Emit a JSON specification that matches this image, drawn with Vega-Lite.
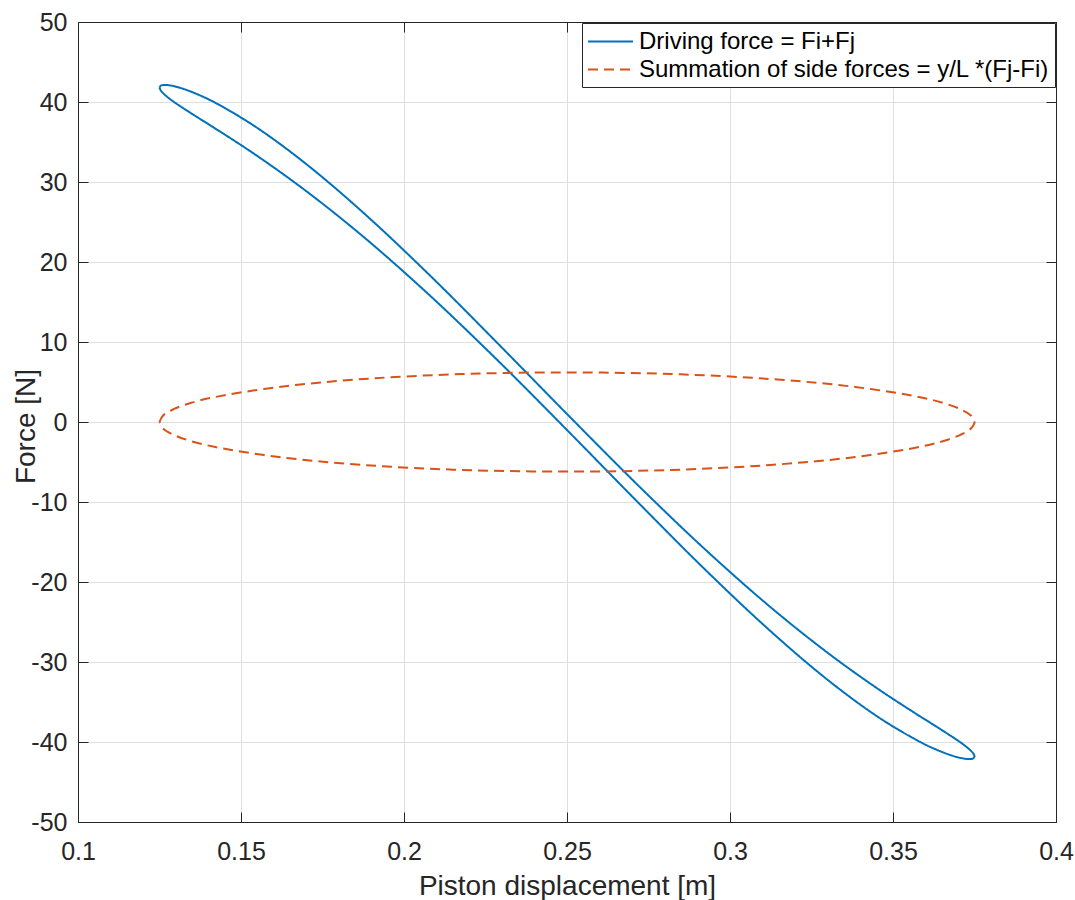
{
  "$schema": "https://vega.github.io/schema/vega-lite/v6.json",
  "width": 978,
  "height": 800,
  "autosize": "none",
  "padding": {"left": 78, "top": 22, "right": 19, "bottom": 78},
  "background": "white",
  "config": {
    "font": "Liberation Sans",
    "view": {"stroke": "#262626", "strokeWidth": 1},
    "axis": {
      "labelFontSize": 25,
      "labelColor": "#262626",
      "labelFont": "Liberation Sans",
      "titleFont": "Liberation Sans",
      "titleFontSize": 28,
      "titleColor": "#262626",
      "titleFontWeight": "normal",
      "domainColor": "#262626",
      "tickColor": "#262626",
      "gridColor": "#dfdfdf",
      "gridWidth": 1,
      "tickSize": -10,
      "tickWidth": 1,
      "domainWidth": 1,
      "labelFlush": false,
      "labelOverlap": false
    },
    "legend": {
      "labelFont": "Liberation Sans",
      "labelFontSize": 24,
      "labelColor": "#000000"
    }
  },
  "data": {
    "values": [
      {"s": "Driving force = Fi+Fj", "i": 1, "x": 0.12500, "y": 41.80},
      {"s": "Driving force = Fi+Fj", "i": 2, "x": 0.12548, "y": 42.06},
      {"s": "Driving force = Fi+Fj", "i": 3, "x": 0.12690, "y": 42.13},
      {"s": "Driving force = Fi+Fj", "i": 4, "x": 0.12926, "y": 41.99},
      {"s": "Driving force = Fi+Fj", "i": 5, "x": 0.13254, "y": 41.61},
      {"s": "Driving force = Fi+Fj", "i": 6, "x": 0.13671, "y": 40.95},
      {"s": "Driving force = Fi+Fj", "i": 7, "x": 0.14175, "y": 39.98},
      {"s": "Driving force = Fi+Fj", "i": 8, "x": 0.15425, "y": 36.96},
      {"s": "Driving force = Fi+Fj", "i": 9, "x": 0.16965, "y": 32.36},
      {"s": "Driving force = Fi+Fj", "i": 10, "x": 0.18750, "y": 26.17},
      {"s": "Driving force = Fi+Fj", "i": 11, "x": 0.20725, "y": 18.60},
      {"s": "Driving force = Fi+Fj", "i": 12, "x": 0.22829, "y": 10.02},
      {"s": "Driving force = Fi+Fj", "i": 13, "x": 0.25000, "y": 1.00},
      {"s": "Driving force = Fi+Fj", "i": 14, "x": 0.27171, "y": -7.88},
      {"s": "Driving force = Fi+Fj", "i": 15, "x": 0.29275, "y": -16.07},
      {"s": "Driving force = Fi+Fj", "i": 16, "x": 0.31250, "y": -23.17},
      {"s": "Driving force = Fi+Fj", "i": 17, "x": 0.33035, "y": -28.97},
      {"s": "Driving force = Fi+Fj", "i": 18, "x": 0.34575, "y": -33.46},
      {"s": "Driving force = Fi+Fj", "i": 19, "x": 0.35825, "y": -36.78},
      {"s": "Driving force = Fi+Fj", "i": 20, "x": 0.36329, "y": -38.07},
      {"s": "Driving force = Fi+Fj", "i": 21, "x": 0.36746, "y": -39.16},
      {"s": "Driving force = Fi+Fj", "i": 22, "x": 0.37074, "y": -40.06},
      {"s": "Driving force = Fi+Fj", "i": 23, "x": 0.37310, "y": -40.80},
      {"s": "Driving force = Fi+Fj", "i": 24, "x": 0.37452, "y": -41.38},
      {"s": "Driving force = Fi+Fj", "i": 25, "x": 0.37500, "y": -41.80},
      {"s": "Driving force = Fi+Fj", "i": 26, "x": 0.37452, "y": -42.06},
      {"s": "Driving force = Fi+Fj", "i": 27, "x": 0.37310, "y": -42.13},
      {"s": "Driving force = Fi+Fj", "i": 28, "x": 0.37074, "y": -41.99},
      {"s": "Driving force = Fi+Fj", "i": 29, "x": 0.36746, "y": -41.61},
      {"s": "Driving force = Fi+Fj", "i": 30, "x": 0.36329, "y": -40.95},
      {"s": "Driving force = Fi+Fj", "i": 31, "x": 0.35825, "y": -39.98},
      {"s": "Driving force = Fi+Fj", "i": 32, "x": 0.34575, "y": -36.96},
      {"s": "Driving force = Fi+Fj", "i": 33, "x": 0.33035, "y": -32.36},
      {"s": "Driving force = Fi+Fj", "i": 34, "x": 0.31250, "y": -26.17},
      {"s": "Driving force = Fi+Fj", "i": 35, "x": 0.29275, "y": -18.60},
      {"s": "Driving force = Fi+Fj", "i": 36, "x": 0.27171, "y": -10.02},
      {"s": "Driving force = Fi+Fj", "i": 37, "x": 0.25000, "y": -1.00},
      {"s": "Driving force = Fi+Fj", "i": 38, "x": 0.22829, "y": 7.88},
      {"s": "Driving force = Fi+Fj", "i": 39, "x": 0.20725, "y": 16.07},
      {"s": "Driving force = Fi+Fj", "i": 40, "x": 0.18750, "y": 23.17},
      {"s": "Driving force = Fi+Fj", "i": 41, "x": 0.16965, "y": 28.97},
      {"s": "Driving force = Fi+Fj", "i": 42, "x": 0.15425, "y": 33.46},
      {"s": "Driving force = Fi+Fj", "i": 43, "x": 0.14175, "y": 36.78},
      {"s": "Driving force = Fi+Fj", "i": 44, "x": 0.13671, "y": 38.07},
      {"s": "Driving force = Fi+Fj", "i": 45, "x": 0.13254, "y": 39.16},
      {"s": "Driving force = Fi+Fj", "i": 46, "x": 0.12926, "y": 40.06},
      {"s": "Driving force = Fi+Fj", "i": 47, "x": 0.12690, "y": 40.80},
      {"s": "Driving force = Fi+Fj", "i": 48, "x": 0.12548, "y": 41.38},
      {"s": "Driving force = Fi+Fj", "i": 49, "x": 0.12500, "y": 41.80},
      {"s": "Summation of side forces = y/L *(Fj-Fi)", "i": 1, "x": 0.1250, "y": 0},
      {"s": "Summation of side forces = y/L *(Fj-Fi)", "i": 2, "x": 0.1261, "y": 0.81},
      {"s": "Summation of side forces = y/L *(Fj-Fi)", "i": 3, "x": 0.1293, "y": 1.60},
      {"s": "Summation of side forces = y/L *(Fj-Fi)", "i": 4, "x": 0.1345, "y": 2.37},
      {"s": "Summation of side forces = y/L *(Fj-Fi)", "i": 5, "x": 0.1418, "y": 3.10},
      {"s": "Summation of side forces = y/L *(Fj-Fi)", "i": 6, "x": 0.1616, "y": 4.38},
      {"s": "Summation of side forces = y/L *(Fj-Fi)", "i": 7, "x": 0.1875, "y": 5.37},
      {"s": "Summation of side forces = y/L *(Fj-Fi)", "i": 8, "x": 0.2177, "y": 5.99},
      {"s": "Summation of side forces = y/L *(Fj-Fi)", "i": 9, "x": 0.2500, "y": 6.20},
      {"s": "Summation of side forces = y/L *(Fj-Fi)", "i": 10, "x": 0.2823, "y": 5.99},
      {"s": "Summation of side forces = y/L *(Fj-Fi)", "i": 11, "x": 0.3125, "y": 5.37},
      {"s": "Summation of side forces = y/L *(Fj-Fi)", "i": 12, "x": 0.3384, "y": 4.38},
      {"s": "Summation of side forces = y/L *(Fj-Fi)", "i": 13, "x": 0.3583, "y": 3.10},
      {"s": "Summation of side forces = y/L *(Fj-Fi)", "i": 14, "x": 0.3655, "y": 2.37},
      {"s": "Summation of side forces = y/L *(Fj-Fi)", "i": 15, "x": 0.3707, "y": 1.60},
      {"s": "Summation of side forces = y/L *(Fj-Fi)", "i": 16, "x": 0.3739, "y": 0.81},
      {"s": "Summation of side forces = y/L *(Fj-Fi)", "i": 17, "x": 0.3750, "y": 0},
      {"s": "Summation of side forces = y/L *(Fj-Fi)", "i": 18, "x": 0.3739, "y": -0.81},
      {"s": "Summation of side forces = y/L *(Fj-Fi)", "i": 19, "x": 0.3707, "y": -1.60},
      {"s": "Summation of side forces = y/L *(Fj-Fi)", "i": 20, "x": 0.3655, "y": -2.37},
      {"s": "Summation of side forces = y/L *(Fj-Fi)", "i": 21, "x": 0.3583, "y": -3.10},
      {"s": "Summation of side forces = y/L *(Fj-Fi)", "i": 22, "x": 0.3384, "y": -4.38},
      {"s": "Summation of side forces = y/L *(Fj-Fi)", "i": 23, "x": 0.3125, "y": -5.37},
      {"s": "Summation of side forces = y/L *(Fj-Fi)", "i": 24, "x": 0.2823, "y": -5.99},
      {"s": "Summation of side forces = y/L *(Fj-Fi)", "i": 25, "x": 0.2500, "y": -6.20},
      {"s": "Summation of side forces = y/L *(Fj-Fi)", "i": 26, "x": 0.2177, "y": -5.99},
      {"s": "Summation of side forces = y/L *(Fj-Fi)", "i": 27, "x": 0.1875, "y": -5.37},
      {"s": "Summation of side forces = y/L *(Fj-Fi)", "i": 28, "x": 0.1616, "y": -4.38},
      {"s": "Summation of side forces = y/L *(Fj-Fi)", "i": 29, "x": 0.1418, "y": -3.10},
      {"s": "Summation of side forces = y/L *(Fj-Fi)", "i": 30, "x": 0.1345, "y": -2.37},
      {"s": "Summation of side forces = y/L *(Fj-Fi)", "i": 31, "x": 0.1293, "y": -1.60},
      {"s": "Summation of side forces = y/L *(Fj-Fi)", "i": 32, "x": 0.1261, "y": -0.81},
      {"s": "Summation of side forces = y/L *(Fj-Fi)", "i": 33, "x": 0.1250, "y": 0}
    ]
  },
  "layer": [
    {
      "mark": {"type": "line", "interpolate": "catmull-rom", "strokeWidth": 2, "clip": true},
      "encoding": {
        "x": {
          "field": "x", "type": "quantitative",
          "scale": {"domain": [0.1, 0.4], "nice": false, "zero": false},
          "axis": {
            "orient": "bottom",
            "values": [0.1, 0.15, 0.2, 0.25, 0.3, 0.35, 0.4],
            "labelExpr": "toString(datum.value)",
            "labelPadding": 27,
            "grid": true,
            "title": "Piston displacement [m]",
            "titleY": 72,
            "titleBaseline": "alphabetic"
          }
        },
        "y": {
          "field": "y", "type": "quantitative",
          "scale": {"domain": [-50, 50], "nice": false, "zero": false},
          "axis": {
            "orient": "left",
            "values": [-50, -40, -30, -20, -10, 0, 10, 20, 30, 40, 50],
            "labelExpr": "toString(datum.value)",
            "labelPadding": 21,
            "grid": true,
            "title": "Force [N]",
            "titleX": -44,
            "titleY": 404,
            "titleBaseline": "alphabetic"
          }
        },
        "order": {"field": "i", "type": "quantitative"},
        "color": {
          "field": "s", "type": "nominal",
          "scale": {"domain": ["Driving force = Fi+Fj", "Summation of side forces = y/L *(Fj-Fi)"], "range": ["#0072BD", "#D95319"]},
          "legend": {
            "title": null,
            "orient": "top-right",
            "offset": 1,
            "padding": 5,
            "rowPadding": 2,
            "strokeColor": "#262626",
            "fillColor": "white",
            "symbolType": "M-1,0H2.6",
            "symbolSize": 625,
            "symbolStrokeWidth": 2,
            "labelOffset": 25,
            "labelLimit": 1000
          }
        },
        "strokeDash": {
          "field": "s", "type": "nominal",
          "scale": {"domain": ["Driving force = Fi+Fj", "Summation of side forces = y/L *(Fj-Fi)"], "range": [[1, 0], [10, 6]]},
          "legend": null
        }
      }
    },
    {
      "mark": {"type": "line", "opacity": 0},
      "encoding": {
        "x": {
          "field": "x", "type": "quantitative",
          "axis": {
            "orient": "top",
            "values": [0.1, 0.15, 0.2, 0.25, 0.3, 0.35, 0.4],
            "labels": false,
            "grid": false,
            "title": null
          }
        },
        "y": {
          "field": "y", "type": "quantitative",
          "axis": {
            "orient": "right",
            "values": [-50, -40, -30, -20, -10, 0, 10, 20, 30, 40, 50],
            "labels": false,
            "grid": false,
            "title": null
          }
        }
      }
    }
  ],
  "resolve": {"axis": {"x": "independent", "y": "independent"}}
}
